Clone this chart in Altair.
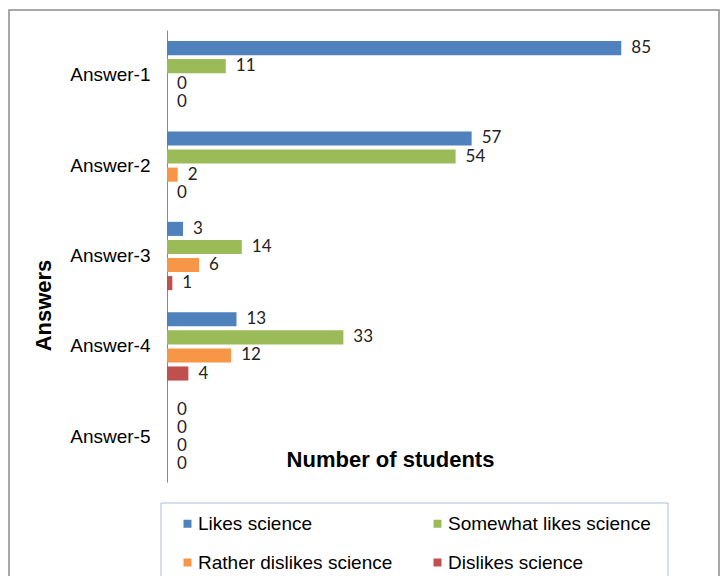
import altair as alt
import pandas as pd

answers = ["Answer-1", "Answer-2", "Answer-3", "Answer-4", "Answer-5"]
series = ["Likes science", "Somewhat likes science", "Rather dislikes science", "Dislikes science"]
likes = [85, 57, 3, 13, 0]
somewhat = [11, 54, 14, 33, 0]
rather_dislikes = [0, 2, 6, 12, 0]
dislikes = [0, 0, 1, 4, 0]
colors = ["#4F81BD", "#9BBB59", "#F79646", "#C0504D"]

rows = []
for s, vals in zip(series, [likes, somewhat, rather_dislikes, dislikes]):
    for a, v in zip(answers, vals):
        rows.append({"Answer": a, "Series": s, "Value": v})
df = pd.DataFrame(rows)

FONT = "Liberation Sans"

x = alt.X("Value:Q", scale=alt.Scale(domain=[0, 90], nice=False),
          axis=alt.Axis(labels=False, ticks=False, domain=False, grid=False,
                        title="Number of students", titleFont=FONT, titleFontSize=22,
                        titleFontWeight="bold", titleColor="black",
                        titleX=223, titleY=-23, titleBaseline="middle", titleAlign="center"))
y = alt.Y("Answer:N", sort=answers,
          scale=alt.Scale(paddingInner=0, paddingOuter=0),
          axis=alt.Axis(title="Answers", titleFont=FONT, titleFontSize=22, titleFontWeight="bold",
                        titleColor="black", titleX=-124, titleY=275, titleAngle=-90,
                        titleAlign="center", titleBaseline="middle",
                        labelFont=FONT, labelFontSize=19, labelColor="black", labelPadding=17,
                        ticks=False, domainColor="#888888", domainWidth=1, grid=False))
yoff = alt.YOffset("Series:N", sort=series,
                   scale=alt.Scale(paddingInner=0.22, paddingOuter=0.61))

bars = alt.Chart(df).mark_bar().encode(
    x=x, y=y, yOffset=yoff,
    color=alt.Color("Series:N", sort=series,
                    scale=alt.Scale(domain=series, range=colors),
                    legend=alt.Legend(title=None, orient="none", legendX=11, legendY=484,
                                      direction="horizontal",
                                      columns=2, columnPadding=35, rowPadding=19,
                                      symbolType="square", symbolSize=64, symbolStrokeWidth=0,
                                      labelFont=FONT, labelFontSize=19, labelColor="black",
                                      labelOffset=1, labelLimit=300, padding=0)),
)

labels = alt.Chart(df).mark_text(align="left", baseline="middle", dx=10,
                                 font="Lato", fontSize=17, color="#222222").encode(
    x="Value:Q", y=alt.Y("Answer:N", sort=answers), yOffset=alt.YOffset("Series:N", sort=series),
    text="Value:Q",
)

one = alt.Data(values=[{"k": 1}])
frame = alt.Chart(one).mark_rect(fillOpacity=0, stroke="#8c8c8c", strokeWidth=1.5).encode(
    x=alt.value(-158), x2=alt.value(552), y=alt.value(-20), y2=alt.value(600))
legend_box = alt.Chart(one).mark_rect(fillOpacity=0, stroke="#A7BFDE", strokeWidth=1).encode(
    x=alt.value(-6), x2=alt.value(501), y=alt.value(473), y2=alt.value(600))

chart = alt.layer(frame, legend_box, bars, labels).properties(
    width=481, height=452,
    autosize=alt.AutoSizeParams(type="none"),
    padding={"left": 167, "top": 30, "right": 75, "bottom": 94},
    background="white",
).configure_view(stroke=None)

chart.save("out.html", embed_options={"renderer": "svg", "actions": False})
